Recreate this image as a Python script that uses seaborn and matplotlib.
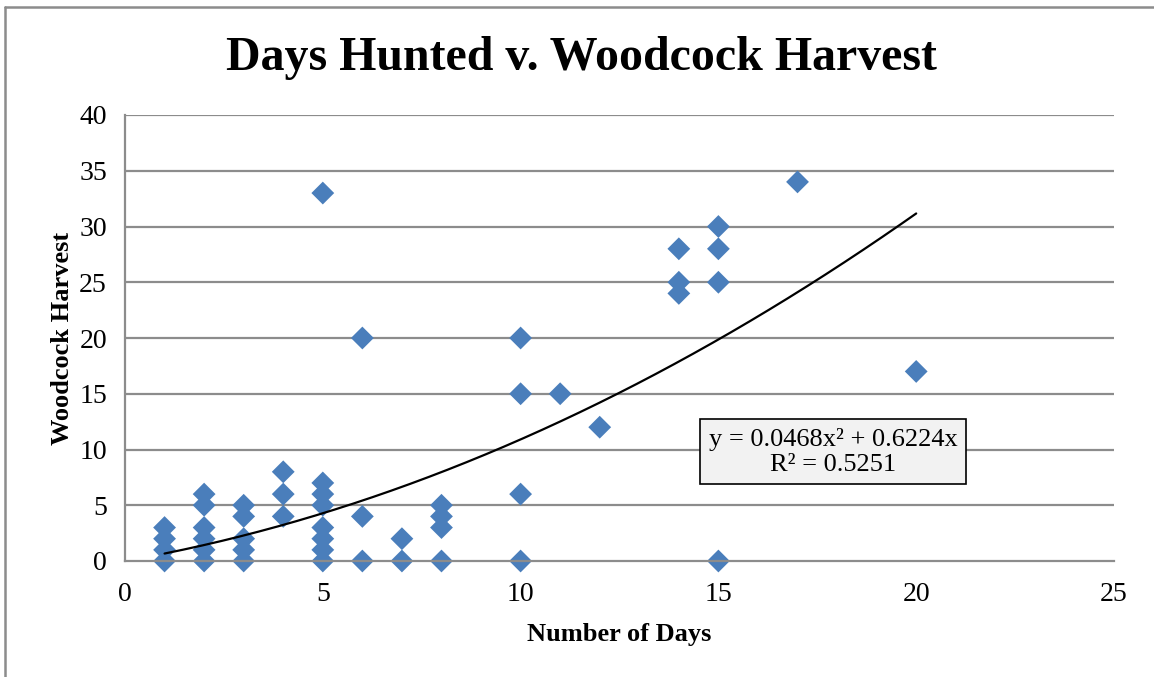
import numpy as np
import pandas as pd
import matplotlib
matplotlib.use("Agg")
import matplotlib.pyplot as plt
import seaborn as sns

days = [1, 1, 1, 1,
        2, 2, 2, 2, 2, 2,
        3, 3, 3, 3, 3,
        4, 4, 4,
        5, 5, 5, 5, 5, 5, 5, 5,
        6, 6, 6,
        7, 7,
        8, 8, 8, 8,
        10, 10, 10, 10,
        11, 12,
        14, 14, 14,
        15, 15, 15, 15,
        17, 20]
harvest = [0, 1, 2, 3,
           0, 1, 2, 3, 5, 6,
           0, 1, 2, 4, 5,
           4, 6, 8,
           0, 1, 2, 3, 5, 6, 7, 33,
           0, 4, 20,
           0, 2,
           0, 3, 4, 5,
           0, 6, 15, 20,
           15, 12,
           24, 25, 28,
           0, 25, 28, 30,
           34, 17]
coef_a = 0.0468
coef_b = 0.6224
r2 = 0.5251
x_ticks = [0, 5, 10, 15, 20, 25]
y_ticks = [0, 5, 10, 15, 20, 25, 30, 35, 40]

df = pd.DataFrame({"days": days, "harvest": harvest})

sns.set_style("white")
plt.rcParams['font.family'] = ['Liberation Serif', 'DejaVu Serif']
plt.rcParams['text.color'] = 'black'
plt.rcParams['axes.labelcolor'] = 'black'

W, H = 1154, 677
fig = plt.figure(figsize=(W / 100, H / 100), dpi=100)
ax = fig.add_axes([125 / W, 1 - 561 / H, (1114 - 125) / W, (561 - 115) / H])

grid_c = '#8c8c8c'
for yv in y_ticks[1:]:
    ax.axhline(yv, color=grid_c, lw=1.6, zorder=0)

xs = np.linspace(min(days), max(days), 200)
ax.plot(xs, coef_a * xs ** 2 + coef_b * xs, color='black', lw=1.6, zorder=3)

sns.scatterplot(data=df, x="days", y="harvest", marker='D', s=135,
                color='#4a7ebb', edgecolor='none', linewidth=0, ax=ax, zorder=2,
                clip_on=False)

ax.set_xlim(0, 25)
ax.set_ylim(0, 40)
ax.set_xticks(x_ticks)
ax.set_yticks(y_ticks)
ax.tick_params(axis='both', labelsize=20, colors='black', length=7, width=1.6,
               color=grid_c, direction='out')
ax.tick_params(axis='y', pad=6)
ax.tick_params(axis='x', pad=8)
for side in ['top', 'right']:
    ax.spines[side].set_visible(False)
for side in ['left', 'bottom']:
    ax.spines[side].set_color(grid_c)
    ax.spines[side].set_linewidth(1.6)

ax.set_xlabel("Number of Days", fontsize=19, fontweight='bold', labelpad=12)
ax.set_ylabel("Woodcock Harvest", fontsize=19, fontweight='bold', labelpad=4)

fig.text(581 / W, 1 - 58 / H, "Days Hunted v. Woodcock Harvest", ha='center', va='center',
         fontsize=34.5, fontweight='bold')

ax.text(17.9, 9.8, f"y = {coef_a}x² + {coef_b}x\nR² = {r2}", ha='center', va='center',
        fontsize=19, linespacing=1.2, zorder=5,
        bbox=dict(boxstyle='square,pad=0.32', facecolor='#f2f2f2', edgecolor='black', lw=1.2))

# outer chart border (left and top)
fig.add_artist(plt.Line2D([5 / W, 5 / W], [0, 1 - 7 / H], color='#8c8c8c', lw=1.8,
                          transform=fig.transFigure))
fig.add_artist(plt.Line2D([5 / W, 1], [1 - 7 / H, 1 - 7 / H], color='#8c8c8c', lw=1.8,
                          transform=fig.transFigure))

fig.savefig("out.png", dpi=100)
